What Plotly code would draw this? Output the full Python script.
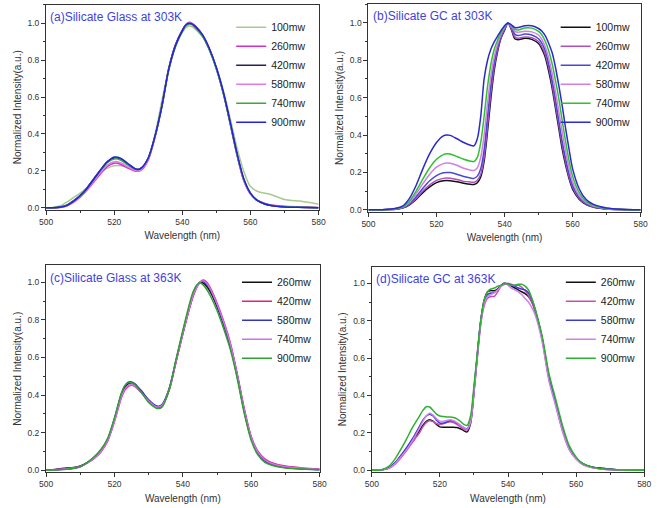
import plotly.graph_objects as go

# ---------------- Panel (a): Silicate Glass at 303K ----------------
wl_a = [500, 502, 504, 506, 508, 510, 512, 514, 516, 518, 520, 522, 524, 526, 527, 528, 530, 532, 534, 536,
        538, 540, 541, 542, 543, 544, 546, 548, 550, 552, 554, 556, 558, 560, 562, 564, 566, 570, 575, 580]
a_100 = [0, 0.002, 0.01, 0.03, 0.055, 0.08, 0.11, 0.15, 0.19, 0.215, 0.228, 0.228, 0.22, 0.21, 0.208, 0.215, 0.27, 0.4, 0.58, 0.75,
         0.87, 0.95, 0.975, 0.985, 0.98, 0.965, 0.925, 0.855, 0.76, 0.64, 0.49, 0.33, 0.2, 0.115, 0.09, 0.08, 0.072, 0.045, 0.035, 0.02]
a_260 = [0, 0, 0.002, 0.01, 0.03, 0.058, 0.095, 0.14, 0.185, 0.225, 0.242, 0.235, 0.215, 0.2, 0.198, 0.205, 0.26, 0.385, 0.55, 0.75,
         0.88, 0.962, 0.992, 1.005, 0.998, 0.982, 0.935, 0.86, 0.755, 0.625, 0.46, 0.29, 0.15, 0.075, 0.04, 0.025, 0.015, 0.008, 0.004, 0.002]
a_420 = [0, 0, 0.004, 0.014, 0.038, 0.068, 0.108, 0.158, 0.207, 0.25, 0.27, 0.262, 0.236, 0.212, 0.207, 0.215, 0.27, 0.39, 0.555, 0.755,
         0.885, 0.962, 0.99, 1.0, 0.993, 0.975, 0.93, 0.855, 0.755, 0.625, 0.465, 0.295, 0.155, 0.078, 0.04, 0.022, 0.013, 0.006, 0.003, 0.001]
a_580 = [0, 0, 0.002, 0.01, 0.032, 0.06, 0.098, 0.145, 0.192, 0.232, 0.25, 0.243, 0.222, 0.204, 0.2, 0.208, 0.262, 0.385, 0.548, 0.748,
         0.88, 0.96, 0.99, 1.003, 0.997, 0.98, 0.932, 0.858, 0.755, 0.625, 0.462, 0.292, 0.152, 0.076, 0.04, 0.024, 0.014, 0.007, 0.003, 0.001]
a_740 = [0, 0, 0.003, 0.013, 0.037, 0.066, 0.106, 0.155, 0.203, 0.245, 0.265, 0.258, 0.233, 0.212, 0.208, 0.216, 0.27, 0.39, 0.55, 0.745,
         0.875, 0.955, 0.985, 0.995, 0.99, 0.972, 0.928, 0.852, 0.752, 0.622, 0.462, 0.295, 0.158, 0.08, 0.042, 0.024, 0.014, 0.006, 0.003, 0.001]
a_900 = [0, 0, 0.003, 0.012, 0.035, 0.065, 0.105, 0.155, 0.205, 0.25, 0.275, 0.268, 0.24, 0.213, 0.208, 0.216, 0.27, 0.39, 0.55, 0.75,
         0.88, 0.96, 0.99, 1.0, 0.995, 0.98, 0.935, 0.86, 0.76, 0.63, 0.47, 0.30, 0.16, 0.08, 0.04, 0.022, 0.013, 0.005, 0.002, 0]

# ---------------- Panel (b): Silicate GC at 303K ----------------
wl_b = [500, 504, 506, 508, 510, 512, 514, 516, 518, 520, 522, 523, 524, 526, 528, 530, 531, 532, 533, 534,
        535, 536, 537, 538, 539, 540, 541, 542, 543, 544, 546, 548, 550, 551, 552, 553, 554, 555, 556, 557,
        558, 559, 560, 562, 564, 566, 568, 570, 574, 580]
b_100 = [0, 0, 0.001, 0.003, 0.009, 0.025, 0.055, 0.092, 0.122, 0.145, 0.155, 0.156, 0.155, 0.15, 0.142, 0.136, 0.135, 0.145, 0.175, 0.26,
         0.42, 0.6, 0.75, 0.85, 0.92, 0.96, 1.0, 0.965, 0.915, 0.91, 0.918, 0.912, 0.89, 0.86, 0.815, 0.74, 0.65, 0.54, 0.43, 0.32,
         0.235, 0.165, 0.11, 0.055, 0.028, 0.015, 0.008, 0.004, 0.001, 0]
b_260 = [0, 0, 0.001, 0.003, 0.01, 0.028, 0.06, 0.1, 0.133, 0.157, 0.168, 0.17, 0.169, 0.162, 0.152, 0.148, 0.147, 0.158, 0.19, 0.28,
         0.45, 0.63, 0.77, 0.86, 0.925, 0.965, 1.0, 0.97, 0.925, 0.918, 0.925, 0.92, 0.9, 0.872, 0.83, 0.76, 0.67, 0.56, 0.45, 0.34,
         0.25, 0.175, 0.12, 0.06, 0.03, 0.016, 0.009, 0.004, 0.001, 0]
b_420 = [0, 0, 0.001, 0.004, 0.011, 0.032, 0.07, 0.115, 0.155, 0.183, 0.198, 0.2, 0.199, 0.19, 0.178, 0.17, 0.168, 0.18, 0.22, 0.32,
         0.5, 0.67, 0.79, 0.87, 0.93, 0.97, 1.0, 0.975, 0.94, 0.932, 0.94, 0.935, 0.915, 0.89, 0.85, 0.78, 0.69, 0.59, 0.47, 0.36,
         0.27, 0.19, 0.13, 0.065, 0.033, 0.018, 0.01, 0.005, 0.001, 0]
b_580 = [0, 0, 0.002, 0.005, 0.013, 0.038, 0.085, 0.14, 0.19, 0.228, 0.247, 0.25, 0.249, 0.238, 0.222, 0.212, 0.21, 0.225, 0.28, 0.4,
         0.57, 0.72, 0.82, 0.89, 0.94, 0.975, 1.0, 0.98, 0.955, 0.95, 0.955, 0.952, 0.935, 0.91, 0.87, 0.81, 0.73, 0.63, 0.52, 0.41,
         0.31, 0.22, 0.15, 0.075, 0.038, 0.02, 0.012, 0.006, 0.002, 0]
b_740 = [0, 0, 0.002, 0.006, 0.015, 0.045, 0.1, 0.165, 0.225, 0.27, 0.295, 0.3, 0.298, 0.285, 0.27, 0.26, 0.258, 0.28, 0.36, 0.5,
         0.66, 0.78, 0.86, 0.91, 0.95, 0.98, 1.0, 0.985, 0.965, 0.962, 0.972, 0.972, 0.955, 0.935, 0.9, 0.85, 0.78, 0.69, 0.59, 0.47,
         0.36, 0.26, 0.18, 0.09, 0.045, 0.025, 0.014, 0.008, 0.002, 0]
b_900 = [0, 0, 0.003, 0.008, 0.02, 0.06, 0.13, 0.22, 0.3, 0.36, 0.395, 0.4, 0.398, 0.38, 0.36, 0.345, 0.342, 0.38, 0.5, 0.7,
         0.8, 0.86, 0.9, 0.93, 0.96, 0.985, 1.0, 0.99, 0.975, 0.975, 0.985, 0.985, 0.97, 0.955, 0.93, 0.89, 0.84, 0.76, 0.66, 0.55,
         0.43, 0.32, 0.22, 0.11, 0.055, 0.03, 0.018, 0.01, 0.003, 0]

# ---------------- Panel (c): Silicate Glass at 363K ----------------
wl_c = [500, 503, 506, 508, 510, 512, 514, 516, 518, 520, 522, 523, 524, 525, 526, 528, 530, 532, 533, 534,
        536, 538, 540, 542, 543, 544, 545, 546, 547, 548, 550, 552, 554, 556, 558, 560, 562, 564, 566, 570, 575, 580]
c_260 = [0, 0.005, 0.012, 0.015, 0.022, 0.04, 0.065, 0.1, 0.16, 0.27, 0.4, 0.44, 0.46, 0.465, 0.455, 0.415, 0.37, 0.34, 0.335, 0.345,
         0.43, 0.58, 0.73, 0.87, 0.93, 0.975, 1.0, 0.995, 0.978, 0.95, 0.87, 0.77, 0.65, 0.49, 0.31, 0.17, 0.09, 0.05, 0.032, 0.015, 0.008, 0.004]
c_420 = [0, 0.003, 0.008, 0.012, 0.02, 0.038, 0.062, 0.097, 0.155, 0.26, 0.385, 0.425, 0.445, 0.452, 0.445, 0.41, 0.37, 0.342, 0.338, 0.348,
         0.425, 0.575, 0.725, 0.865, 0.925, 0.97, 1.0, 1.012, 1.0, 0.972, 0.89, 0.79, 0.67, 0.505, 0.325, 0.18, 0.1, 0.06, 0.04, 0.022, 0.012, 0.006]
c_580 = [0, 0.002, 0.006, 0.01, 0.02, 0.04, 0.068, 0.105, 0.165, 0.275, 0.405, 0.448, 0.468, 0.47, 0.46, 0.42, 0.375, 0.345, 0.34, 0.352,
         0.435, 0.585, 0.735, 0.875, 0.935, 0.978, 1.0, 1.005, 0.99, 0.962, 0.88, 0.78, 0.66, 0.5, 0.315, 0.17, 0.088, 0.048, 0.03, 0.014, 0.007, 0.003]
c_740 = [0, 0.003, 0.008, 0.012, 0.02, 0.038, 0.063, 0.098, 0.157, 0.262, 0.39, 0.43, 0.45, 0.455, 0.447, 0.41, 0.368, 0.34, 0.336, 0.347,
         0.428, 0.578, 0.728, 0.868, 0.93, 0.972, 1.0, 1.008, 0.995, 0.967, 0.885, 0.785, 0.665, 0.5, 0.32, 0.175, 0.095, 0.055, 0.036, 0.018, 0.01, 0.005]
c_900 = [0, 0.002, 0.005, 0.009, 0.018, 0.04, 0.07, 0.11, 0.17, 0.28, 0.41, 0.45, 0.465, 0.465, 0.455, 0.41, 0.36, 0.332, 0.328, 0.338,
         0.43, 0.59, 0.745, 0.89, 0.95, 0.985, 0.998, 0.985, 0.962, 0.93, 0.85, 0.75, 0.635, 0.48, 0.3, 0.158, 0.08, 0.042, 0.026, 0.012, 0.006, 0.003]

# ---------------- Panel (d): Silicate GC at 363K ----------------
wl_d = [500, 503, 505, 506, 507, 508, 510, 512, 514, 515, 516, 517, 518, 519, 520, 521, 522, 523, 524, 525,
        526, 527, 528, 529, 530, 531, 532, 533, 534, 535, 536, 537, 538, 539, 540, 541, 542, 543, 544, 545,
        546, 547, 548, 550, 552, 554, 556, 558, 560, 562, 565, 568, 572, 576, 580]
d_260 = [0, 0.002, 0.012, 0.025, 0.042, 0.065, 0.11, 0.16, 0.21, 0.24, 0.262, 0.27, 0.262, 0.245, 0.232, 0.23, 0.23, 0.23, 0.23, 0.228,
         0.222, 0.212, 0.205, 0.25, 0.42, 0.62, 0.8, 0.91, 0.955, 0.962, 0.96, 0.97, 0.99, 1.0, 0.995, 0.985, 0.975, 0.965, 0.955, 0.945,
         0.93, 0.9, 0.85, 0.71, 0.5, 0.36, 0.22, 0.12, 0.065, 0.035, 0.016, 0.01, 0.003, 0, 0]
d_420 = [0, 0.002, 0.01, 0.02, 0.035, 0.055, 0.1, 0.15, 0.2, 0.232, 0.255, 0.265, 0.26, 0.25, 0.245, 0.248, 0.255, 0.26, 0.255, 0.245,
         0.232, 0.22, 0.215, 0.255, 0.41, 0.6, 0.78, 0.88, 0.92, 0.93, 0.93, 0.955, 0.985, 0.995, 1.0, 0.995, 0.99, 0.99, 0.98, 0.96,
         0.935, 0.9, 0.85, 0.7, 0.49, 0.35, 0.21, 0.11, 0.06, 0.03, 0.013, 0.005, 0.002, 0, 0]
d_580 = [0, 0.002, 0.012, 0.025, 0.042, 0.065, 0.115, 0.17, 0.235, 0.268, 0.29, 0.3, 0.29, 0.268, 0.252, 0.252, 0.258, 0.265, 0.262, 0.252,
         0.24, 0.228, 0.222, 0.265, 0.43, 0.62, 0.8, 0.9, 0.94, 0.948, 0.95, 0.97, 0.99, 1.0, 0.995, 0.99, 0.985, 0.975, 0.97, 0.965,
         0.95, 0.915, 0.86, 0.71, 0.5, 0.365, 0.225, 0.12, 0.065, 0.033, 0.014, 0.006, 0.002, 0, 0]
d_740 = [0, 0.002, 0.01, 0.022, 0.038, 0.06, 0.105, 0.16, 0.225, 0.262, 0.29, 0.305, 0.295, 0.275, 0.262, 0.262, 0.266, 0.27, 0.265, 0.255,
         0.24, 0.228, 0.22, 0.26, 0.42, 0.61, 0.79, 0.89, 0.93, 0.94, 0.95, 0.965, 0.985, 1.0, 0.99, 0.975, 0.965, 0.955, 0.94, 0.92,
         0.9, 0.87, 0.83, 0.69, 0.48, 0.345, 0.21, 0.11, 0.06, 0.03, 0.013, 0.005, 0.002, 0, 0]
d_900 = [0, 0.003, 0.02, 0.04, 0.065, 0.095, 0.16, 0.23, 0.29, 0.32, 0.34, 0.338, 0.32, 0.3, 0.29, 0.287, 0.285, 0.285, 0.282, 0.275,
         0.262, 0.245, 0.24, 0.29, 0.45, 0.63, 0.8, 0.91, 0.955, 0.97, 0.975, 0.985, 0.99, 1.0, 0.995, 0.99, 0.99, 0.995, 0.995, 0.985,
         0.965, 0.92, 0.86, 0.72, 0.52, 0.38, 0.24, 0.13, 0.07, 0.035, 0.015, 0.006, 0.002, 0, 0]

panel_titles = ["(a)Silicate Glass at 303K", "(b)Silicate GC at 303K",
                "(c)Silicate Glass at 363K", "(d)Silicate GC at 363K"]

panels = [
    dict(wl=wl_a, names=["100mw", "260mw", "420mw", "580mw", "740mw", "900mw"],
         ys=[a_100, a_260, a_420, a_580, a_740, a_900],
         colors=["#a9c98f", "#d030c8", "#22225e", "#e47ae8", "#3aa83a", "#2323dd"]),
    dict(wl=wl_b, names=["100mw", "260mw", "420mw", "580mw", "740mw", "900mw"],
         ys=[b_100, b_260, b_420, b_580, b_740, b_900],
         colors=["#111111", "#b050c0", "#4848d8", "#d080e0", "#30c030", "#2a2ad0"]),
    dict(wl=wl_c, names=["260mw", "420mw", "580mw", "740mw", "900mw"],
         ys=[c_260, c_420, c_580, c_740, c_900],
         colors=["#111111", "#e0208c", "#3535c0", "#d070e8", "#30a030"]),
    dict(wl=wl_d, names=["260mw", "420mw", "580mw", "740mw", "900mw"],
         ys=[d_260, d_420, d_580, d_740, d_900],
         colors=["#111111", "#c850b0", "#3a3ad0", "#d080e8", "#30b030"]),
]

xdomains = [[0.0605, 0.4815], [0.5587, 0.9793], [0.0605, 0.4831], [0.5638, 0.9849]]
ydomains = [[0.5848, 0.9906], [0.5809, 0.9917], [0.0652, 0.4744], [0.0652, 0.4722]]
yranges = [[-0.01, 1.1], [-0.01, 1.1], [-0.01, 1.09], [-0.01, 1.09]]
legend_pos = [(0.3465, 0.975), (0.848, 0.975), (0.3555, 0.47), (0.856, 0.47)]

fig = go.Figure()
for i, p in enumerate(panels):
    ax = "" if i == 0 else str(i + 1)
    leg = "legend" if i == 0 else "legend" + str(i + 1)
    for name, y, col in zip(p["names"], p["ys"], p["colors"]):
        fig.add_trace(go.Scatter(x=p["wl"], y=y, name=name, mode="lines",
                                 line=dict(color=col, width=1.5, shape="spline", smoothing=0.8),
                                 xaxis="x" + ax, yaxis="y" + ax, legend=leg))

axis_font = dict(family="Liberation Sans, Arial, sans-serif", size=8.5, color="#333333")
title_font = dict(family="Liberation Sans, Arial, sans-serif", size=10, color="#333333")
layout = dict(width=661, height=508, margin=dict(l=0, r=0, t=0, b=0),
              paper_bgcolor="white", plot_bgcolor="white", showlegend=True)
for i in range(4):
    ax = "" if i == 0 else str(i + 1)
    layout["xaxis" + ax] = dict(domain=xdomains[i], range=[500, 580], anchor="y" + ax,
                                dtick=20, tick0=500, ticks="outside", ticklen=4, tickwidth=1,
                                tickcolor="#333", showline=True, mirror=True, linecolor="#333",
                                linewidth=1.2, showgrid=False, zeroline=False, tickfont=axis_font,
                                minor=dict(dtick=10, ticks="outside", ticklen=2, tickcolor="#333"),
                                title=dict(text="Wavelength (nm)", font=title_font, standoff=6))
    layout["yaxis" + ax] = dict(domain=ydomains[i], range=yranges[i], anchor="x" + ax,
                                dtick=0.2, tick0=0, tickformat=".1f", ticks="outside", ticklen=4,
                                tickwidth=1, tickcolor="#333", showline=True, mirror=True,
                                linecolor="#333", linewidth=1.2, showgrid=False, zeroline=False,
                                tickfont=axis_font,
                                minor=dict(dtick=0.1, ticks="outside", ticklen=2, tickcolor="#333"),
                                title=dict(text="Normalized Intensity(a.u.)", font=title_font, standoff=4))
    leg = "legend" if i == 0 else "legend" + str(i + 1)
    layout[leg] = dict(x=legend_pos[i][0], y=legend_pos[i][1], xanchor="left", yanchor="top",
                       bgcolor="rgba(0,0,0,0)", borderwidth=0,
                       font=dict(family="Liberation Sans, Arial, sans-serif", size=10.5, color="#222"))

fig.update_layout(**layout)

for i, t in enumerate(panel_titles):
    ax = "" if i == 0 else str(i + 1)
    fig.add_annotation(text=t, xref="x" + ax + " domain", yref="y" + ax + " domain",
                       x=0.008, y=0.985, xanchor="left", yanchor="top", showarrow=False,
                       font=dict(family="Liberation Sans, Arial, sans-serif", size=12, color="#3f3fe0"))

fig.write_html("out.html")
